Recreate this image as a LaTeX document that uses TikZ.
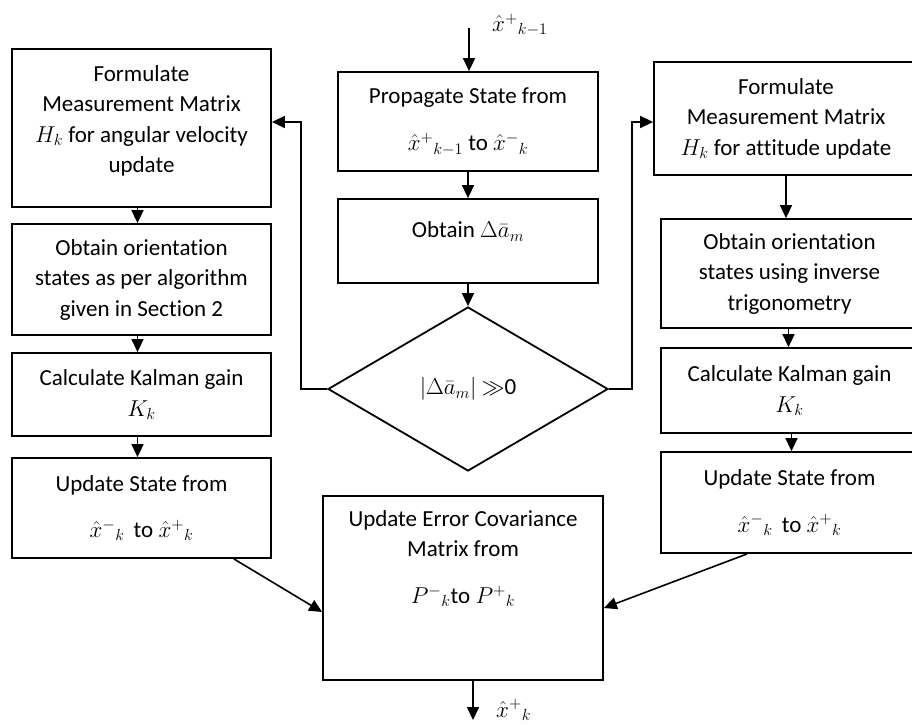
\documentclass[tikz,border=0pt]{standalone}
\usepackage{fix-cm}
\usepackage{fontspec}
\setmainfont{Carlito}[Ligatures=NoCommon]
\usetikzlibrary{arrows.meta,shapes.geometric}
% invisible strut that deepens the last line, lifting a node's text upwards
\newcommand\liftby[1]{\rule[-#1]{0pt}{#1}}
\begin{document}
\begin{tikzpicture}[x=1pt,y=-1pt,
  box/.style={draw,line width=1.8pt,rectangle,align=center,inner sep=0pt,
    font=\fontsize{23}{30.5}\selectfont},
  dec/.style={draw,line width=1.8pt,diamond,inner sep=0pt,
    font=\fontsize{23}{30.5}\selectfont},
  arr/.style={line width=1.6pt,-{Triangle[length=13pt,width=12pt]}},
  lbl/.style={inner sep=0pt,anchor=west,font=\fontsize{23}{28}\selectfont}]
\useasboundingbox (0,0) rectangle (912,724);
\clip (0,0) rectangle (912,724);

% centre column
\node[box,minimum width=260pt,minimum height=99pt] (C1) at (468,121.5)
  {Propagate State from\\[17pt]$\hat{x}^{+}{}_{k-1}$ to $\hat{x}^{-}{}_{k}$};
\node[box,minimum width=260pt,minimum height=84pt] (C2) at (468,241)
  {Obtain $\Delta\bar{a}_m$\liftby{22pt}};
\node[dec,minimum width=280pt,minimum height=164pt] (D) at (468,389)
  {$|\Delta\bar{a}_m|$ $\gg$0};
\node[box,minimum width=280pt,minimum height=184pt] (C3) at (463,588)
  {Update Error Covariance\\Matrix from\\[16pt]$P^{-}{}_{k}$to $P^{+}{}_{k}$\liftby{62pt}};

% left column
\node[box,minimum width=259pt,minimum height=158pt] (L1) at (141.5,128)
  {Formulate\\Measurement Matrix\\$H_k$ for angular velocity\\update\liftby{18pt}};
\node[box,minimum width=259pt,minimum height=111pt] (L2) at (141.5,279.5)
  {Obtain orientation\\states as per algorithm\\given in Section 2};
\node[box,minimum width=259pt,minimum height=83pt] (L3) at (141.5,394.5)
  {Calculate Kalman gain\\$K_k$};
\node[box,minimum width=259pt,minimum height=100pt] (L4) at (141.5,508)
  {Update State from\\[16pt]$\hat{x}^{-}{}_{k}$\, to $\hat{x}^{+}{}_{k}$};

% right column (runs past the right margin)
\node[box,minimum width=264pt,minimum height=113pt] (R1) at (786,118.5)
  {Formulate\\Measurement Matrix\\$H_k$ for attitude update};
\node[box,minimum width=257pt,minimum height=109pt] (R2) at (789.5,273.5)
  {Obtain orientation\\states using inverse\\trigonometry};
\node[box,minimum width=257pt,minimum height=85pt] (R3) at (789.5,390.5)
  {Calculate Kalman gain\\$K_k$};
\node[box,minimum width=257pt,minimum height=101pt] (R4) at (789.5,502.5)
  {Update State from\\[16pt]$\hat{x}^{-}{}_{k}$\, to $\hat{x}^{+}{}_{k}$};

% input and output
\coordinate (in) at (469,28);
\coordinate (out) at (473,720);
\node[lbl] (inlbl) at (492,25) {$\hat{x}^{+}{}_{k-1}$};
\node[lbl] (outlbl) at (496,710) {$\hat{x}^{+}{}_{k}$};
\draw[arr] (in) -- (in |- C1.north);
\draw[arr] (out |- C3.south) -- (out);

% centre flow
\draw[arr] (C1.south) -- (C2.north);
\draw[arr] (C2.south) -- (D.north);

% branches of the decision
\coordinate (lj) at (301,122);
\coordinate (rj) at (632,122);
\draw[arr] (D.west) -- (D.west -| lj) -- (lj) -- (lj -| L1.east);
\draw[arr] (D.east) -- (D.east -| rj) -- (rj) -- (rj -| R1.west);

% left chain
\draw[arr] ([xshift=-4pt]L1.south) -- ([xshift=-4pt]L2.north);
\draw[arr] ([xshift=-4pt]L2.south) -- ([xshift=-4pt]L3.north);
\draw[arr] ([xshift=-4pt]L3.south) -- ([xshift=-4pt]L4.north);

% right chain
\draw[arr] (R1.south) -- (R1.south |- R2.north);
\draw[arr] ([xshift=-1pt]R2.south) -- ([xshift=-1pt]R3.north);
\draw[arr] ([xshift=2pt]R3.south) -- ([xshift=2pt]R4.north);

% merge into covariance update
\draw[arr] ([xshift=-38pt]L4.south east) -- ([yshift=-24pt]C3.west);
\draw[arr] ([xshift=87pt]R4.south west) -- ([yshift=-20pt]C3.east);
\end{tikzpicture}
\end{document}
